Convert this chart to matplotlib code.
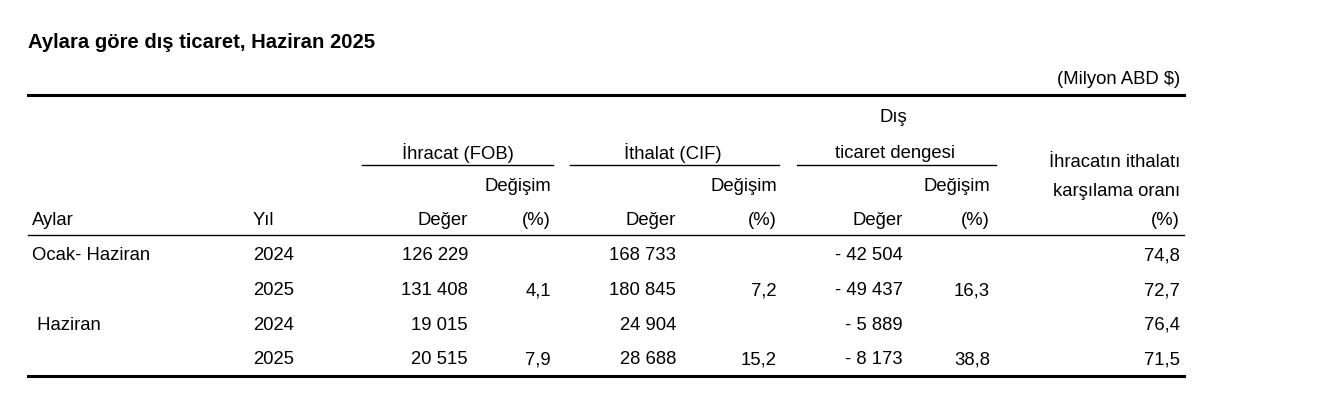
import matplotlib
matplotlib.use("Agg")
import matplotlib.pyplot as plt
from matplotlib.lines import Line2D

plt.rcParams['font.family'] = ['Liberation Sans', 'DejaVu Sans']

title = "Aylara göre dış ticaret, Haziran 2025"
unit = "(Milyon ABD $)"
periods = ["Ocak- Haziran", "", " Haziran", ""]
years = ["2024", "2025", "2024", "2025"]
exp_val = ["126 229", "131 408", "19 015", "20 515"]
exp_chg = ["", "4,1", "", "7,9"]
imp_val = ["168 733", "180 845", "24 904", "28 688"]
imp_chg = ["", "7,2", "", "15,2"]
bal_val = ["- 42 504", "- 49 437", "- 5 889", "- 8 173"]
bal_chg = ["", "16,3", "", "38,8"]
cover = ["74,8", "72,7", "76,4", "71,5"]

W, H = 1322, 410
fig = plt.figure(figsize=(W/100, H/100), dpi=100)
FS = 13.3

def T(x, y, s, ha='left', **kw):
    fig.text(x/W, 1-y/H, s, ha=ha, va='center', fontsize=kw.pop('fs', FS), **kw)

def L(x0, x1, y, lw):
    fig.add_artist(Line2D([x0/W, x1/W], [1-y/H, 1-y/H], color='black', lw=lw))

T(28, 43, title, fs=14.6, fontweight='bold')
T(1180, 80, unit, ha='right')
L(28, 1184, 96, 2.2)
T(893, 117, "Dış", ha='center')
T(458, 153, "İhracat (FOB)", ha='center')
T(673, 153, "İthalat (CIF)", ha='center')
T(895, 153, "ticaret dengesi", ha='center')
L(362, 553, 166, 1.0)
L(570, 779, 166, 1.0)
L(797, 996, 166, 1.0)
for x in (551, 777, 990):
    T(x, 187, "Değişim", ha='right')
T(1180, 163, "İhracatın ithalatı", ha='right')
T(1180, 192, "karşılama oranı", ha='right')
T(32, 221, "Aylar")
T(253, 221, "Yıl")
for x, s in [(468, "Değer"), (551, "(%)"), (676, "Değer"), (777, "(%)"),
             (903, "Değer"), (990, "(%)"), (1180, "(%)")]:
    T(x, 221, s, ha='right')
L(28, 1184, 236, 1.0)
ys = [256, 291, 325, 360]
for i, y in enumerate(ys):
    T(32, y, periods[i])
    T(253, y, years[i])
    T(468, y, exp_val[i], ha='right')
    T(551, y, exp_chg[i], ha='right')
    T(676, y, imp_val[i], ha='right')
    T(777, y, imp_chg[i], ha='right')
    T(903, y, bal_val[i], ha='right')
    T(990, y, bal_chg[i], ha='right')
    T(1180, y, cover[i], ha='right')
L(28, 1184, 377, 2.2)
fig.savefig("out.png", dpi=100)
